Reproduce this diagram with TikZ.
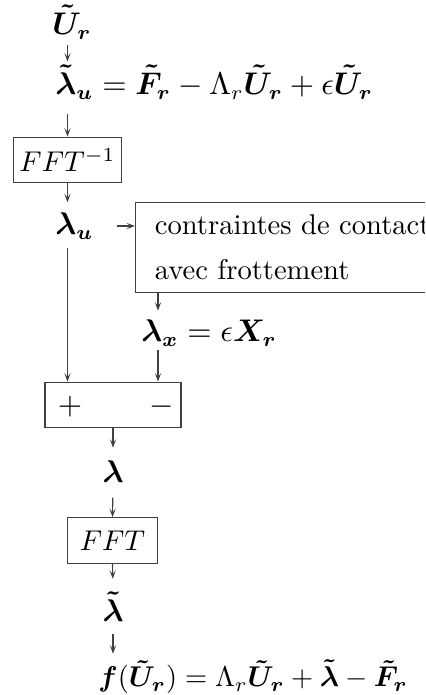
\documentclass[tikz,border=0pt]{standalone}
\usepackage{amsmath,amssymb}
\usetikzlibrary{arrows.meta,positioning,calc}

\begin{document}
\begin{tikzpicture}[x=0.35pt, y=-0.35pt, >={Stealth[length=3pt, width=2.2pt, inset=1.4pt]},
  box/.style={draw=black!75, thin, minimum height=16pt, inner sep=2pt},
  m/.style={inner sep=1pt, font=\fontsize{10.6}{12.7}\selectfont},
  flow/.style={->, thin, draw=black!75}]
  \clip (0,0) rectangle (425,695);
  % ---- left column ----
  \node[m] (Ur) at (72,22) {$\boldsymbol{\tilde U_r}$};
  \node[m, anchor=west] (lamtu) at (52,82) {$\boldsymbol{\tilde\lambda_u} = \boldsymbol{\tilde F_r} - \Lambda_r\boldsymbol{\tilde U_r} + \epsilon\boldsymbol{\tilde U_r}$};
  \node[box, minimum width=38pt] (fftinv) at (67.5,160) {$FFT^{-1}$};
  \node[m, anchor=west] (lamu) at (52,226) {$\boldsymbol{\lambda_u}$};
  % ---- contact law ----
  \node[box, anchor=north west, minimum width=110pt, minimum height=31.5pt, align=left, inner xsep=4pt] (contact) at (135,202)
    {contraintes de contact\\[3.75pt]avec frottement};
  \coordinate (rcol) at (158,0);
  \node[m, anchor=west] (lamx) at (138,333) {$\boldsymbol{\lambda_x} = \epsilon\boldsymbol{X_r}$};
  % ---- difference and back to frequency ----
  \node[box, minimum width=47.6pt] (pm) at (113,405) {};
  \node[m] (plus) at (70,407) {$+$};
  \node[m] (minus) at (162,407) {$-$};
  \node[m] (lam) at (113,472) {$\boldsymbol{\lambda}$};
  \node[box, minimum width=31.8pt] (fft) at (112.5,540.5) {$FFT$};
  \node[m] (lamt) at (113,607) {$\boldsymbol{\tilde\lambda}$};
  \node[m, font=\normalsize, anchor=west] (fres) at (95,677) {$\boldsymbol{f}(\boldsymbol{\tilde U_r}) = \Lambda_r\boldsymbol{\tilde U_r} + \boldsymbol{\tilde\lambda} - \boldsymbol{\tilde F_r}$};
  % ---- connectors ----
  \draw[flow, shorten <=1pt] (Ur.south -| fftinv) -- (lamtu.north -| fftinv);
  \draw[flow, shorten <=4pt] (lamtu.south -| fftinv) -- (fftinv.north);
  \draw[flow, shorten >=2.5pt] (fftinv.south) -- (lamu.north -| fftinv);
  \draw[flow, shorten <=7pt] (lamu.east) -- (lamu.east -| contact.west);
  \draw[flow, shorten >=2pt] (contact.south -| rcol) -- (lamx.north -| rcol);
  \draw[flow, shorten <=2pt] (lamu.south -| fftinv) -- (pm.north -| fftinv);
  \draw[flow] (lamx.south -| rcol) -- (pm.north -| rcol);
  \draw[flow, shorten >=3.5pt] (pm.south) -- (lam.north);
  \draw[flow, shorten <=4pt] (lam.south) -- (fft.north);
  \draw[flow, shorten >=3.5pt] (fft.south) -- (lamt.north);
  \draw[flow, shorten <=3pt, shorten >=1pt] (lamt.south) -- (fres.north -| lamt);
\end{tikzpicture}
\end{document}
